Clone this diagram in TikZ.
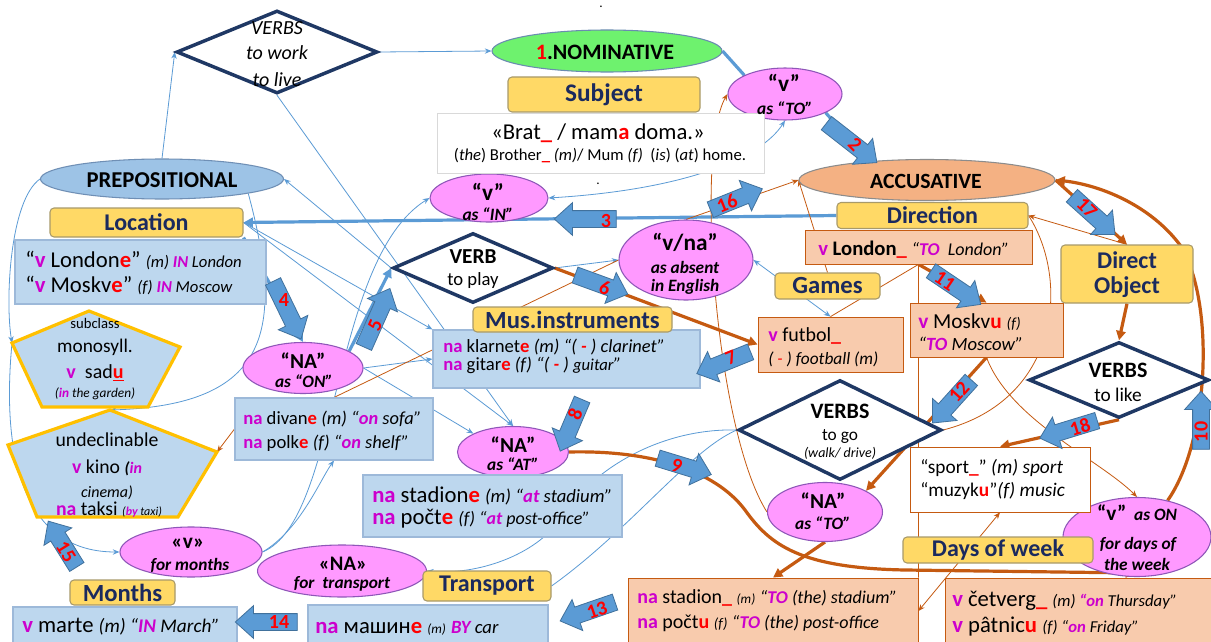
\documentclass[tikz,border=0pt]{standalone}
\usepackage{fontspec}
\setmainfont{Carlito}
\usetikzlibrary{shapes.geometric,shapes.arrows,arrows.meta}
\pgfdeclarelayer{bg}
\pgfsetlayers{bg,main}
\definecolor{yel}{HTML}{FFD966}
\definecolor{ybd}{HTML}{A89A6A}
\definecolor{navy}{HTML}{1B2A5E}
\definecolor{tbf}{HTML}{BDD7EE}
\definecolor{tbd}{HTML}{9DB9D9}
\definecolor{orf}{HTML}{F8CBAD}
\definecolor{ord}{HTML}{C55A11}
\definecolor{pinkf}{HTML}{FF99FF}
\definecolor{pinkd}{HTML}{8E56B8}
\definecolor{mg}{HTML}{CC00CC}
\definecolor{rdc}{HTML}{FF0000}
\definecolor{blc}{HTML}{5B9BD5}
\definecolor{bld}{HTML}{41719C}
\definecolor{diac}{HTML}{1F3864}
\definecolor{goldc}{HTML}{FFC000}
\definecolor{grn}{HTML}{6EF26E}
\definecolor{grnd}{HTML}{6A8CB0}
\definecolor{prepf}{HTML}{9DC3E6}
\definecolor{prepd}{HTML}{6F8FB5}
\definecolor{accf}{HTML}{F4B183}
\definecolor{accd}{HTML}{8C8C8C}
\newcommand\mgb[1]{{\color{mg}\bfseries #1}}
\newcommand\rdb[1]{{\color{rdc}\bfseries #1}}
\newcommand\fsz[1]{\fontsize{#1}{#1}\selectfont}
\newcommand\bix{\bfseries\itshape}
\newcommand\shp[5]{\node[#1, minimum width=#4*0.75pt, minimum height=#5*0.75pt] (#2) at (#3) {};}
\newcommand\ylab[6]{\node[ybox, font=\bfseries\fsz{#5}, minimum width=#3*0.75pt, minimum height=#4*0.75pt] (#1) at (#2) {#6};}
\newcommand\barw[7]{\node[barr, rotate=#3, minimum height=#4*0.75pt] (#1) at (#2) {};
  \node[bnum, rotate=#7] (#1n) at (#6) {#5};}
\begin{document}
\begin{tikzpicture}[x=0.75pt,y=-0.75pt,
  ell/.style={ellipse, inner sep=0pt, line width=0.8pt},
  pk/.style={ellipse, inner sep=0pt, fill=pinkf, draw=pinkd, line width=0.8pt},
  ybox/.style={rectangle, rounded corners=3pt, fill=yel, draw=ybd, line width=0.8pt, text=navy, inner sep=0pt},
  tbox/.style={rectangle, fill=tbf, draw=tbd, line width=0.8pt, inner sep=0pt},
  obox/.style={rectangle, fill=orf, draw=ord, line width=0.6pt, inner sep=0pt},
  wbox/.style={rectangle, fill=white, draw=ord, line width=0.6pt, inner sep=0pt},
  gbox/.style={rectangle, fill=white, draw=black!15, line width=0.6pt, inner sep=0pt},
  dia/.style={diamond, draw=diac, line width=2.6pt, fill=white, inner sep=0pt},
  pent/.style={fill=tbf, draw=goldc, line width=2.4pt, line join=miter},
  tl/.style={inner sep=0pt, anchor=base},
  tlw/.style={inner sep=0pt, anchor=base west},
  thinb/.style={draw=blc, line width=0.6pt, -{Stealth[length=5pt,width=4pt]}},
  thinbn/.style={draw=blc, line width=0.6pt},
  thickb/.style={draw=blc, line width=2.4pt},
  thino/.style={draw=ord, line width=0.6pt, -{Stealth[length=5pt,width=4pt]}},
  thinon/.style={draw=ord, line width=0.6pt},
  thicko/.style={draw=ord, line width=2.4pt, -{Triangle[length=7pt,width=7pt]}},
  tipb/.style={-{Triangle[length=7pt,width=7pt]}},
  barr/.style={single arrow, fill=blc, draw=bld, line width=0.6pt, inner xsep=0pt, inner ysep=6pt, minimum width=24pt, single arrow head extend=6pt, single arrow tip angle=84, single arrow head indent=0pt},
  bnum/.style={inner sep=0pt, text=rdc, font=\bfseries\fsz{15}}]
\useasboundingbox (0,0) rectangle (1211,642);
\begin{pgfonlayer}{bg}
\fill[white] (0,0) rectangle (1211,642);
\end{pgfonlayer}

% ---- pentagons
\coordinate (m1) at (89,311); \coordinate (m2) at (180,347); \coordinate (m3) at (148,407);
\coordinate (m4) at (42,407); \coordinate (m5) at (12,343);
\draw[pent] (m1) -- (m2) -- (m3) -- (m4) -- (m5) -- cycle;
\coordinate (u1) at (110,410); \coordinate (u2) at (217,452); \coordinate (u3) at (178,517);
\coordinate (u4) at (37,517); \coordinate (u5) at (8,445);
\draw[pent] (u1) -- (u2) -- (u3) -- (u4) -- (u5) -- cycle;

% ---- ellipses
\shp{ell, fill=grn, draw=grnd}{nom}{607,51}{230}{42}
\shp{ell, fill=prepf, draw=prepd}{prep}{162,179}{243}{40}
\shp{ell, fill=accf, draw=accd}{acc}{927,180}{256}{41}
\shp{pk}{vto}{785,94}{114}{52}
\shp{pk}{vin}{489,198}{118}{48}
\shp{pk}{vna}{686,260}{134}{80}
\shp{pk}{naon}{303,368}{120}{51}
\shp{pk}{naat}{513,452}{111}{51}
\shp{pk}{nato}{825,512}{115}{59}
\shp{pk}{von}{1137,537}{148}{79}
\shp{pk}{vmon}{191,552}{142}{50}
\shp{pk}{natr}{342,571}{169}{52}

% ---- diamonds
\shp{dia}{vwork}{277,52}{201}{83}
\shp{dia}{vplay}{473,268}{160}{70}
\shp{dia}{vgo}{840,430}{203}{100}
\shp{dia}{vlike}{1119,380}{180}{76}

% ---- text boxes
\shp{gbox}{bratbox}{600.5,143}{327}{60}
\shp{tbox}{londbox}{140.5,272}{251}{64}
\shp{tbox}{klarbox}{566.5,359}{267}{58}
\shp{tbox}{divbox}{334,429}{198}{62}
\shp{tbox}{stadbox}{492.5,506}{259}{62}
\shp{tbox}{martebox}{125,625}{224}{36}
\shp{tbox}{mashbox}{428,624}{240}{38}
\shp{obox}{londacc}{918.5,247}{227}{34}
\shp{obox}{moskacc}{986.5,330}{153}{54}
\shp{obox}{futbox}{830.5,344.5}{145}{55}
\shp{obox}{stadacc}{773,611}{290}{66}
\shp{obox}{cetbox}{1078,611}{266}{66}
\shp{wbox}{sportbox}{1000,479.5}{180}{65}

% ---- yellow labels
\ylab{subj}{604,94.5}{192}{35}{19}{Subject}
\ylab{loc}{146.5,222.5}{193}{29}{18}{Location}
\ylab{dir}{932.5,215.5}{191}{26}{18}{Direction}
\ylab{games}{827.5,286}{105}{26}{18.5}{Games}
\ylab{mus}{572.5,319.5}{199}{25}{18.5}{Mus.instruments}
\shp{ybox}{dobj}{1127,274}{132}{58}
\ylab{days}{998,550}{190}{26}{18}{Days of week}
\ylab{months}{122.5,592.5}{105}{25}{18.5}{Months}
\ylab{transp}{487,586}{128}{30}{18}{Transport}

% ---- texts in ellipses
\node[tl,font=\bfseries\fsz{16.5}] (nomt) at (605,60) {\textcolor{rdc}{1}.NOMINATIVE};
\node[tl,font=\bfseries\fsz{17}] (prept) at (162,187) {PREPOSITIONAL};
\node[tl,font=\bfseries\fsz{16.3}] (acct) at (926,188) {ACCUSATIVE};
\node[tl,font=\bfseries\fsz{17.5}] (vtoa) at (784,92) {“v”};
\node[tl,font=\bix\fsz{13}] (vtob) at (785,114) {as “TO”};
\node[tl,font=\bfseries\fsz{17.5}] (vina) at (488,200) {“v”};
\node[tl,font=\bix\fsz{13}] (vinb) at (488,220) {as “IN”};
\node[tl,font=\bfseries\fsz{17.5}] (vnaa) at (685,250) {“v/na”};
\node[tl,font=\bix\fsz{13}] (vnab) at (685,273) {as absent};
\node[tl,font=\bix\fsz{13}] (vnac) at (685,291) {in English};
\node[tl,font=\bfseries\fsz{16}] (naona) at (303,368) {“NA”};
\node[tl,font=\bix\fsz{13}] (naonb) at (304,387) {as “ON”};
\node[tl,font=\bfseries\fsz{16}] (naata) at (513,452) {“NA”};
\node[tl,font=\bix\fsz{13}] (naatb) at (513,470) {as “AT”};
\node[tl,font=\bfseries\fsz{16}] (natoa) at (823,508) {“NA”};
\node[tl,font=\bix\fsz{13}] (natob) at (823,529) {as “TO”};
\node[tl,font=\bfseries\fsz{16}] (vona) at (1137,520) {“v”{\bix\fsz{13} \ as ON}};
\node[tl,font=\bix\fsz{13}] (vonb) at (1138,549) {for days of};
\node[tl,font=\bix\fsz{13}] (vonc) at (1137,570) {the week};
\node[tl,font=\bfseries\fsz{16}] (vmona) at (188,548) {«v»};
\node[tl,font=\bix\fsz{13}] (vmonb) at (190,570) {for months};
\node[tl,font=\bfseries\fsz{15.5}] (natra) at (343,570) {«NA»};
\node[tl,font=\bix\fsz{13}] (natrb) at (342,588) {for \ transport};

% ---- texts in diamonds
\node[tl,font=\itshape\fsz{15}] (vworka) at (277,35) {VERBS};
\node[tl,font=\itshape\fsz{15}] (vworkb) at (277,60) {to work};
\node[tl,font=\itshape\fsz{15}] (vworkc) at (277,87) {to live};
\node[tl,font=\bfseries\fsz{16}] (vplaya) at (473,263) {VERB};
\node[tl,font=\fsz{14}] (vplayb) at (473,285) {to play};
\node[tl,font=\bfseries\fsz{16.5}] (vgoa) at (840,418) {VERBS};
\node[tl,font=\fsz{13}] (vgob) at (840,440) {to go};
\node[tl,font=\itshape\fsz{10.5}] (vgoc) at (840,457) {(walk/ drive)};
\node[tl,font=\bfseries\fsz{16.5}] (vlikea) at (1118,377) {VERBS};
\node[tl,font=\fsz{14.5}] (vlikeb) at (1118,401) {to like};
\node[tl,font=\bfseries\fsz{18},text=navy] (dobja) at (1127,268) {Direct};
\node[tl,font=\bfseries\fsz{18},text=navy] (dobjb) at (1127,293) {Object};

% ---- texts in pentagons
\node[tl,font=\fsz{11}] (mona) at (95,328) {subclass};
\node[tl,font=\fsz{14.5}] (monb) at (95,352) {monosyll.};
\node[tl,font=\fsz{15}] (monc) at (95,378) {\mgb{v}\ \ sad\rdb{\underline{u}}};
\node[tl,font=\itshape\fsz{10}] (mond) at (95,397) {(\mgb{in} the garden)};
\node[tl,font=\fsz{14.8}] (una) at (107,446) {undeclinable};
\node[tl,font=\fsz{14.8}] (unb) at (107,473) {\mgb{v} kino {\bix\fsz{12}(\mgb{in}}};
\node[tl,font=\itshape\fsz{12}] (unc) at (107,497) {cinema)};
\node[tl,font=\fsz{14.8}] (und) at (109,515) {\mgb{na} taksi {\itshape\fsz{9}(\mgb{by} taxi)}};

% ---- texts in boxes
\node[tl,font=\fsz{17}] (br1) at (598,140) {«Brat\rdb{\_} / mam\rdb{a} doma.»};
\node[tl,font=\fsz{12.5}] (br2) at (600,161) {(\textit{the}) Brother\rdb{\_} \textit{(m)}/ Mum \textit{(f)} \ (\textit{is}) (\textit{at}) home.};
\node[tlw,font=\fsz{17}] (lb1) at (25,267) {“\mgb{v} London\rdb{e}” {\itshape\fsz{12.5}(m) \mgb{IN} London}};
\node[tlw,font=\fsz{17}] (lb2) at (25,292) {“\mgb{v} Moskv\rdb{e}” {\itshape\fsz{12.5}(f) \mgb{IN} Moscow}};
\node[tlw,font=\fsz{14}] (kb1) at (443,352) {\mgb{na} klarnet\rdb{e} {\itshape\fsz{13.8}(m) “( \rdb{-} ) clarinet”}};
\node[tlw,font=\fsz{14}] (kb2) at (443,370) {\mgb{na} gitar\rdb{e} {\itshape\fsz{13.8}(f) “( \rdb{-} ) {\fsz{12.5}guitar}”}};
\node[tlw,font=\fsz{14}] (db1) at (243,424) {\mgb{na} divan\rdb{e} {\itshape\fsz{13.8}(m) “\mgb{on} sofa”}};
\node[tlw,font=\fsz{14}] (db2) at (243,448) {\mgb{na} polk\rdb{e} {\itshape\fsz{13.8}(f) “\mgb{on} shelf”}};
\node[tlw,font=\fsz{17}] (sb1) at (372,502) {\mgb{na} stadion\rdb{e} {\itshape\fsz{14}(m) “\mgb{at} stadium”}};
\node[tlw,font=\fsz{17}] (sb2) at (372,524) {\mgb{na} počt\rdb{e} {\itshape\fsz{13.5}(f) “\mgb{at} post-office”}};
\node[tlw,font=\fsz{17}] (mb1) at (22,632) {\mgb{v} marte {\itshape\fsz{14.5}(m) “\mgb{IN} March”}};
\node[tlw,font=\fsz{17}] (mab1) at (315,633) {\mgb{na} машин\rdb{e} {\itshape\fsz{10}(m)} {\itshape\fsz{14}\mgb{BY} car}};
\node[tlw,font=\fsz{15.5}] (la1) at (818,255) {\mgb{v} \textbf{London}\rdb{\_} {\itshape\fsz{13.5}“\mgb{TO} \ London”}};
\node[tlw,font=\fsz{16}] (ma1) at (918,328) {\mgb{v} Moskv\rdb{u} {\itshape\fsz{11.5}(f)}};
\node[tlw,font=\itshape\fsz{14}] (ma2) at (918,350) {“\mgb{TO} Moscow”};
\node[tlw,font=\fsz{15}] (fb1) at (768,341) {\mgb{v} futbol\rdb{\_}};
\node[tlw,font=\itshape\fsz{13}] (fb2) at (768,364) {( \textcolor{rdc}{-} ) football (m)};
\node[tlw,font=\fsz{15}] (sa1) at (637,603) {\mgb{na} stadion\rdb{\_} {\itshape\fsz{10}(m)} {\itshape\fsz{13.5}“\mgb{TO} (the) stadium”}};
\node[tlw,font=\fsz{15}] (sa2) at (637,628) {\mgb{na} počt\rdb{u} {\itshape\fsz{11}(f)} {\itshape\fsz{13.5}“\mgb{TO} (the) post-office}};
\node[tlw,font=\fsz{17}] (cb1) at (952,606) {\mgb{v} četverg\rdb{\_} {\itshape\fsz{12.5}(m) \mgb{“on} Thursday”}};
\node[tlw,font=\fsz{17}] (cb2) at (952,632) {\mgb{v} pâtnic\rdb{u} {\itshape\fsz{12.5}(f) “\mgb{on} Friday”}};
\node[tlw,font=\fsz{14.5}] (sp1) at (920,473) {“sport\rdb{\_}” {\itshape (m) sport}};
\node[tlw,font=\fsz{14.5}] (sp2) at (920,496) {“muzyk\rdb{u}”{\itshape (f) music}};
\node[tl,font=\fsz{10}] (dot1) at (601,8) {.};
\node[tl,font=\fsz{10}] (dot2) at (598,184) {.};

% ---- connectors (behind)
\begin{pgfonlayer}{bg}
\draw[thinb] (prep.north) -- (vwork.west);
\draw[thinb] (vwork.east) -- (nom.west);
\draw[thinb] (vwork.south) -- (naat.north);
\draw[thinb] (loc.east) -- (naat.north);
\draw[thinb] (loc.east) -- (klarbox.north west);
\draw[thinb] (naon.east) -- (klarbox.west);
\draw[thinb] (naon.east) -- (naat.north west);
\draw[thinb] (vmon.east) .. controls (300,530) and (320,480) .. (divbox.south);
\draw[thinb] (vmon.east) .. controls (340,520) and (330,260) .. (vin.west);
\draw[thinb] (prep.west) .. controls (10,200) and (5,300) .. (m5);
\draw[thinb] (prep.south east) .. controls (285,330) and (270,405) .. (u1);
\draw[thinb] (m5) .. controls (0,470) and (30,552) .. (vmon.west);
\draw[thinb,{Stealth[length=5pt,width=4pt]}-{Stealth[length=5pt,width=4pt]}] (vin.east) .. controls (680,190) and (760,160) .. (vto.south);
\draw[thinb] (vplay.west) -- (prep.east);
\draw[thinb,{Stealth[length=5pt,width=4pt]}-{Stealth[length=5pt,width=4pt]}] (vna.east) -- (futbox.north);
\draw[thinb] (vgo.west) .. controls (660,428) and (590,470) .. (560,520) .. controls (530,560) and (470,575) .. (natr.east);
\draw[thinbn] (vgo.west) .. controls (690,450) and (630,530) .. (transp.east);
\draw[thinb] (vplay.east) -- (vna.west);
\draw[thickb] (nom.east) -- (vto.north west);
\draw[thickb] (vto.south east) -- (acc.162);
\draw[thickb,tipb] (dir.west) -- (loc.east);
\draw[thickb,tipb] (loc.south east) -- (naon.north);
\draw[thickb,tipb] (naon.20) -- (vplay.west);
\draw[thino] (nato.west) .. controls (715,430) and (695,150) .. (vto.west);
\draw[thino] (vna.north) -- (acc.west);
\draw[thino] (games.north) -- (acc.west);
\draw[thinon] (futbox.north) -- (londacc.south);
\draw[thino] (dobj.north) -- (dir.east);
\draw[thinon] (dir.east) .. controls (1070,280) and (1060,400) .. (vgo.east);
\draw[thinon] (londacc.south) -- (stadacc.north east);
\draw[thino,{Stealth[length=5pt,width=4pt]}-{Stealth[length=5pt,width=4pt]}] (sportbox.south) -- (stadacc.east);
\draw[thino] (moskacc.south) .. controls (1010,420) and (1100,460) .. (von.north);
\draw[thino] (divbox.west) -- (u2);
\draw[thinon] (divbox.north) -- (vna.west);
\draw[thicko] (vplay.east) -- (futbox.west);
\draw[thicko] (acc.east) -- (dobj.north);
\draw[thicko] (dobj.south) -- (vlike.north);
\draw[thicko] (vlike.south) -- (sportbox.north);
\draw[thicko] (londacc.south) -- (moskacc.north);
\draw[thicko] (moskacc.south) -- (nato.north east);
\draw[thicko] (nato.south) -- (stadacc.north);
\coordinate (end9) at (1135,573);
\draw[thicko] (naat.east) .. controls (650,450) and (715,470) .. (745,510) .. controls (770,545) and (800,568) .. (905,570) -- (end9);
\draw[thicko] (von.50) .. controls (1210,440) and (1215,300) .. (1180,245) .. controls (1150,205) and (1100,185) .. (acc.east);
\end{pgfonlayer}

% ---- block arrows
\barw{b2}{848,140}{-38}{64}{2}{855,144}{-45}
\barw{b3}{590,219}{180}{62}{3}{606,221}{0}
\barw{b4}{285,306}{-64}{64}{4}{284,300}{0}
\barw{b5}{375,322}{66}{64}{5}{375,325}{66}
\barw{b6}{597,283}{-20}{56}{6}{605,288}{-20}
\barw{b7}{728,361}{202}{58}{7}{731,358}{22}
\barw{b8}{573,421}{-113}{56}{8}{575,414}{67}
\barw{b9}{680,465}{-17}{56}{9}{677,466}{-17}
\barw{b10}{1201,425}{90}{58}{10}{1201,432}{90}
\barw{b11}{952,285}{-34}{60}{11}{945,281}{-34}
\barw{b12}{955,398}{-132}{58}{12}{959,392}{48}
\barw{b13}{592,610}{-161}{58}{13}{597,610}{19}
\barw{b14}{271,622}{180}{62}{14}{279,622}{0}
\barw{b15}{65,548}{122}{54}{15}{66,552}{-58}
\barw{b16}{732,201}{22}{56}{16}{727,203}{22}
\barw{b17}{1090,212}{-42}{58}{17}{1087,208}{-45}
\barw{b18}{1073,428}{-163}{60}{18}{1080,427}{17}
\end{tikzpicture}
\end{document}
